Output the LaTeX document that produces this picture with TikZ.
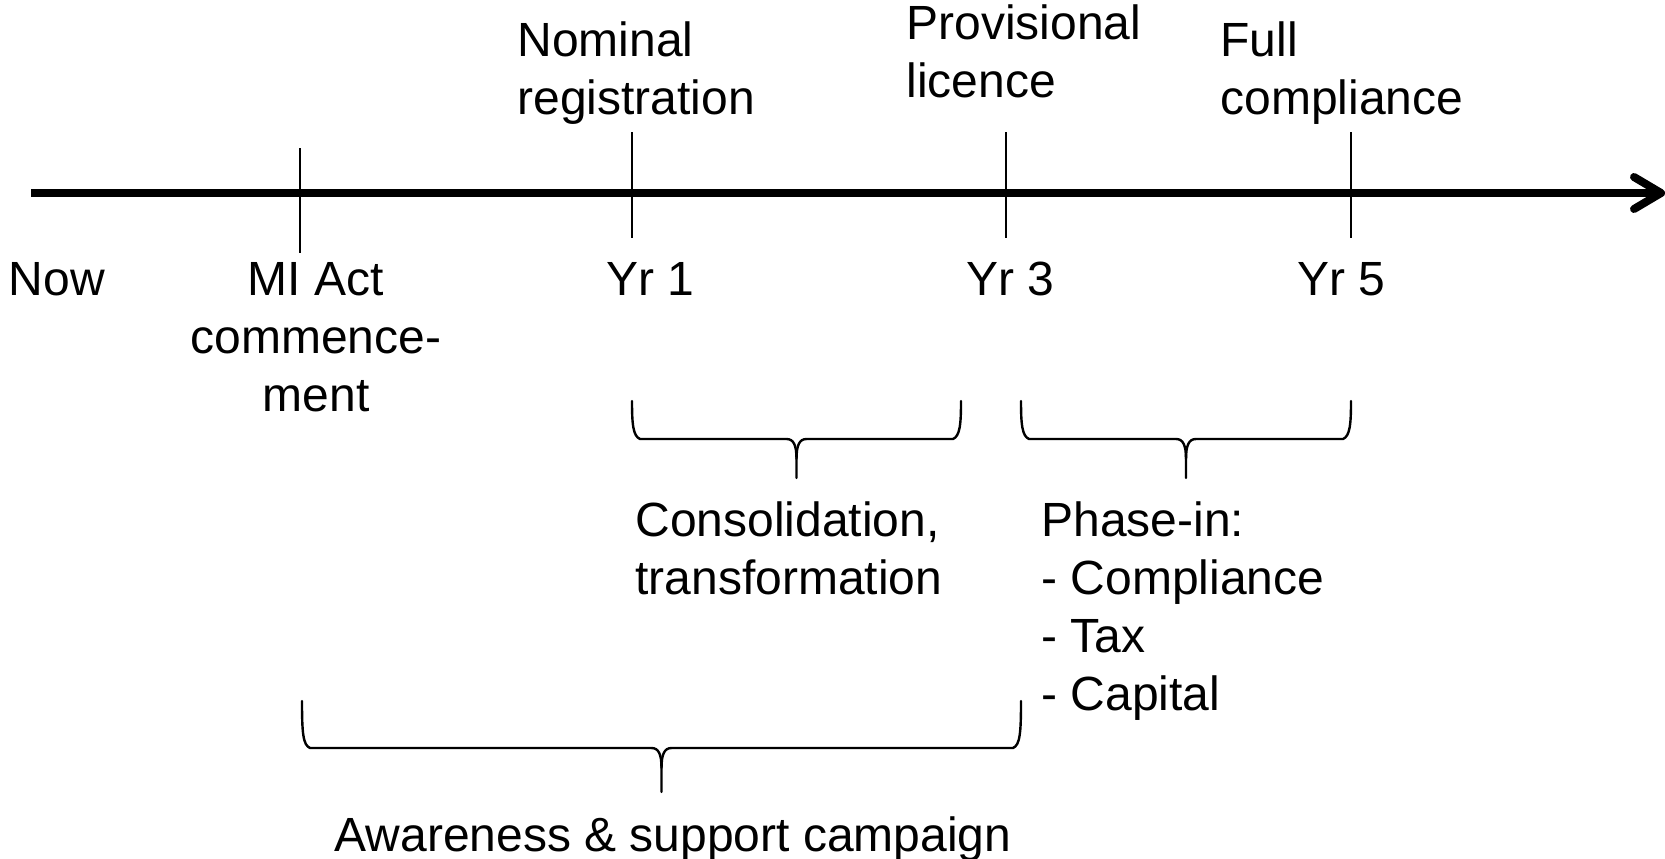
\documentclass[tikz,border=0pt]{standalone}
\usepackage{fontspec}
\setmainfont{Liberation Sans}
\newcommand\drawbrace[5]{%
  \pgfmathsetmacro\bm{(#1+#2)/2}%
  \draw[brc] (#1,#3) .. controls (#1,#4-15) and (#1+1,#4-3) .. (#1+8,#4) -- (\bm-10,#4)
    .. controls (\bm-3,#4) and (\bm,#4+6) .. (\bm,#4+20) -- (\bm,#5);
  \draw[brc] (#2,#3) .. controls (#2,#4-15) and (#2-1,#4-3) .. (#2-8,#4) -- (\bm+10,#4)
    .. controls (\bm+3,#4) and (\bm,#4+6) .. (\bm,#4+20);
}
\begin{document}
\begin{tikzpicture}[x=0.5pt,y=-0.5pt,
  lbl/.style={font=\fontsize{24pt}{29pt}\selectfont, inner sep=0pt, anchor=base west, align=left},
  tickline/.style={line width=1pt},
  brc/.style={line width=1.2pt, line cap=round},
  axisline/.style={line width=4pt}]
\useasboundingbox (0,0) rectangle (1665,858);
% axis
\coordinate (axstart) at (31,193);
\coordinate (axend) at (1659,193);
\coordinate (tipA) at (1634,177);
\coordinate (tipB) at (1661,193);
\coordinate (tipC) at (1634,209);
\draw[axisline] (axstart) -- (axend);
\draw[axisline, line cap=round, line join=round] (tipA) -- (tipB) -- (tipC);
% ticks
\coordinate (t0a) at (300,148); \coordinate (t0b) at (300,253);
\coordinate (t1a) at (632,132); \coordinate (t1b) at (632,238);
\coordinate (t3a) at (1006,132); \coordinate (t3b) at (1006,238);
\coordinate (t5a) at (1351,132); \coordinate (t5b) at (1351,238);
\draw[tickline] (t0a) -- (t0b);
\draw[tickline] (t1a) -- (t1b);
\draw[tickline] (t3a) -- (t3b);
\draw[tickline] (t5a) -- (t5b);
% labels (multi-line nodes: base = last line's baseline)
\node[lbl] (now) at (8.5,295) {Now};
\node[lbl, anchor=base, align=center] (mi) at (316,411) {MI Act\\commence-\\ment};
\node[lbl] (yr1) at (606,295) {Yr 1};
\node[lbl] (yr3) at (966,295) {Yr 3};
\node[lbl] (yr5) at (1297,295) {Yr 5};
\node[lbl] (nom) at (517,114) {Nominal\\registration};
\node[lbl] (prov) at (906,97) {Provisional\\licence};
\node[lbl] (full) at (1220,114) {Full\\compliance};
\node[lbl] (cons) at (635,594) {Consolidation,\\transformation};
\node[lbl] (phase) at (1041,710) {Phase-in:\\- Compliance\\- Tax\\- Capital};
\node[lbl, anchor=base] (aware) at (673,851) {Awareness \& support campaign};
% braces
\drawbrace{632}{961}{401}{439}{478}
\drawbrace{1021}{1351}{401}{439}{478}
\drawbrace{302}{1021}{701}{748}{792}
\end{tikzpicture}
\end{document}
